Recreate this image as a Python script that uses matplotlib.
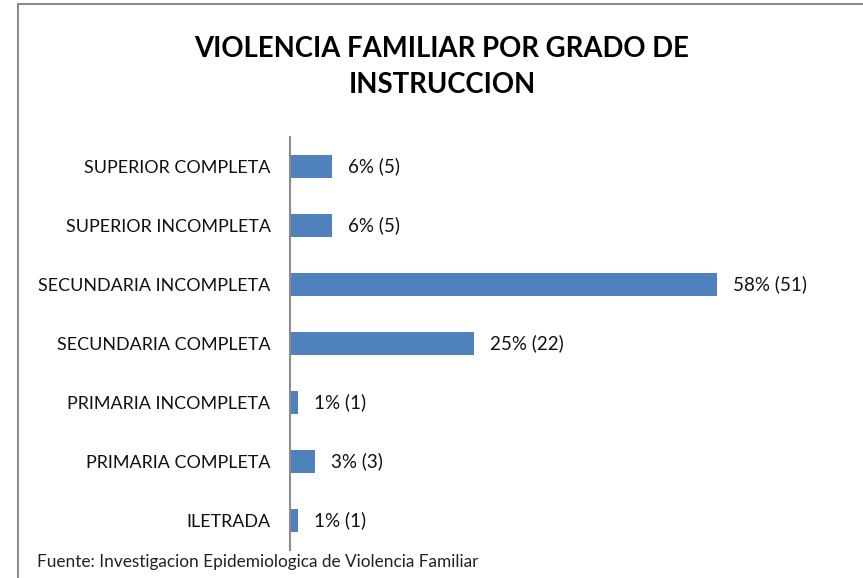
import matplotlib
matplotlib.use("Agg")
import matplotlib.pyplot as plt
from matplotlib.patches import Rectangle

categories = ["ILETRADA", "PRIMARIA COMPLETA", "PRIMARIA INCOMPLETA",
              "SECUNDARIA COMPLETA", "SECUNDARIA INCOMPLETA",
              "SUPERIOR INCOMPLETA", "SUPERIOR COMPLETA"]
counts = [1, 3, 1, 22, 51, 5, 5]
percents = [1, 3, 1, 25, 58, 6, 6]

plt.rcParams['font.family'] = ['Lato', 'DejaVu Sans']

W, H = 863, 578
fig = plt.figure(figsize=(W/100, H/100), dpi=100)

# outer frame
fig.patches.append(Rectangle((18/W, -0.1), 1.2, (H-4)/H + 0.1, transform=fig.transFigure,
                             fill=False, edgecolor='#8c8c8c', linewidth=1.5))

ax = fig.add_axes([290/W, (H-550)/H, 502/W, 413/H])
y = list(range(len(categories)))
ax.barh(y, counts, height=0.4, color='#4F81BD')
for yi, c, p in zip(y, counts, percents):
    ax.annotate(f"{p}% ({c})", (c, yi), xytext=(16, 0), textcoords='offset pixels',
                va='center', ha='left', fontsize=13.5, color='#111111')

ax.set_xlim(0, 60)
ax.set_ylim(-0.5, len(categories) - 0.5)
ax.set_yticks(y)
ax.set_yticklabels(categories, fontsize=12.9, color='#111111')
ax.tick_params(axis='y', length=0, pad=14)
ax.set_xticks([])
for s in ['top', 'right', 'bottom']:
    ax.spines[s].set_visible(False)
ax.spines['left'].set_color('#8c8c8c')
ax.spines['left'].set_linewidth(1.5)

fig.text(442/W, 1 - 67/H, "VIOLENCIA FAMILIAR POR GRADO DE\nINSTRUCCION", ha='center', va='center',
         fontsize=19.8, fontweight='bold', linespacing=1.5)
fig.text(37/W, 1 - 562/H, "Fuente: Investigacion Epidemiologica de Violencia Familiar",
         ha='left', va='center', fontsize=12.4, color='#222222')

fig.savefig("out.png", dpi=100)
